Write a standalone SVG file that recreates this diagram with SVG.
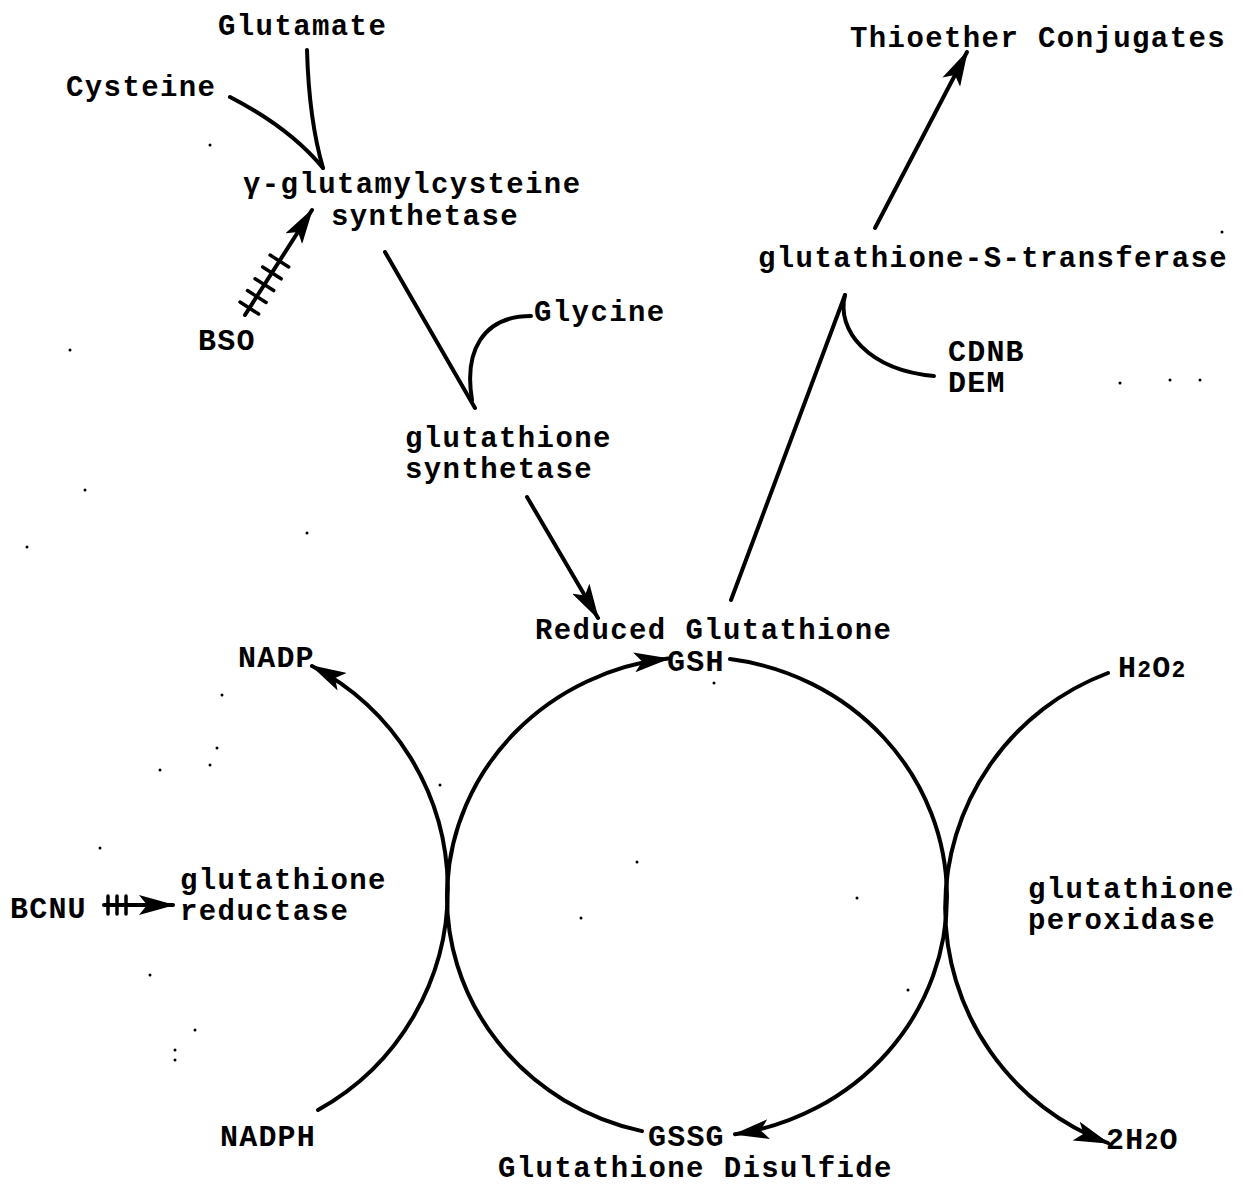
<svg xmlns="http://www.w3.org/2000/svg" width="1243" height="1186" viewBox="0 0 1243 1186">
<defs>
<marker id="ah" markerUnits="userSpaceOnUse" markerWidth="36" markerHeight="20" viewBox="0 0 36 20" refX="34" refY="10" orient="auto">
<path d="M0,0 L36,10 L0,20 L8,10 Z" fill="#000"/>
</marker>
</defs>
<style>
text{font-family:"Liberation Mono","Courier New",monospace;font-weight:bold;fill:#000}
.t{font-size:29px;letter-spacing:1.4px}
.c{font-size:30px;letter-spacing:1.2px}
.s{font-size:23px}
.ln{fill:none;stroke:#000;stroke-width:4;stroke-linecap:round}
.tk{stroke:#000;stroke-width:3.5;stroke-linecap:round}
</style>
<rect width="1243" height="1186" fill="#fff"/>

<g id="connectors">
<path class="ln" d="M307 50 Q309 120 323 168"/>
<path class="ln" d="M230 97 Q290 128 323 168"/>
<path class="ln" d="M245 315 L312 210" marker-end="url(#ah)"/>
<g class="tk">
<line x1="240" y1="302" x2="258.6" y2="314"/>
<line x1="247.5" y1="290.6" x2="266.1" y2="302.4"/>
<line x1="255.1" y1="278.8" x2="273.7" y2="290.6"/>
<line x1="262.6" y1="267" x2="281.2" y2="278.8"/>
<line x1="270.1" y1="255.1" x2="288.7" y2="266.9"/>
</g>
<path class="ln" d="M385 252 L475 408"/>
<path class="ln" d="M531 316 C482 316 464 352 472 400"/>
<path class="ln" d="M527 497 L598 618" marker-end="url(#ah)"/>
<path class="ln" d="M731 600 L845 295"/>
<path class="ln" d="M845 295 C836 330 868 370 934 376"/>
<path class="ln" d="M875 228 L967 52" marker-end="url(#ah)"/>
<path class="ln" d="M642 1131.1 A250 240 0 0 1 668 658.6" marker-end="url(#ah)"/>
<path class="ln" d="M730 659.1 A250 240 0 0 1 735 1134.2" marker-end="url(#ah)"/>
<path class="ln" d="M318 1110 A252 252 0 0 0 312 666" marker-end="url(#ah)"/>
<path class="ln" d="M1108 673 A251 251 0 0 0 1108 1143" marker-end="url(#ah)"/>
<path class="ln" d="M104 905 L173 905" marker-end="url(#ah)"/>
<g class="tk">
<line x1="108" y1="896" x2="108" y2="914"/>
<line x1="117" y1="896" x2="117" y2="914"/>
<line x1="126" y1="896" x2="126" y2="914"/>
</g>
</g>

<g id="glutamate"><text class="t" x="218" y="35">Glutamate</text></g>
<g id="cysteine"><text class="t" x="66" y="96">Cysteine</text></g>
<g id="gcs"><text class="t" x="243" y="193">γ-glutamylcysteine</text><text class="t" x="331" y="225">synthetase</text></g>
<g id="bso"><text class="c" x="198" y="350">BSO</text></g>
<g id="glycine"><text class="t" x="534" y="321">Glycine</text></g>
<g id="gs"><text class="t" x="405" y="447">glutathione</text><text class="t" x="405" y="478">synthetase</text></g>
<g id="gsh"><text class="t" x="535" y="639">Reduced Glutathione</text><text class="c" x="667" y="671">GSH</text></g>
<g id="thioether"><text class="t" x="850" y="47">Thioether Conjugates</text></g>
<g id="gst"><text class="t" x="758" y="267">glutathione-S-transferase</text></g>
<g id="cdnb"><text class="c" x="948" y="361">CDNB</text><text class="c" x="948" y="392">DEM</text></g>
<g id="nadp"><text class="c" x="238" y="667">NADP</text></g>
<g id="h2o2"><text class="c" x="1118" y="677">H<tspan class="s">2</tspan>O<tspan class="s">2</tspan></text></g>
<g id="bcnu"><text class="c" x="10" y="918">BCNU</text></g>
<g id="gr"><text class="t" x="180" y="889">glutathione</text><text class="t" x="180" y="920">reductase</text></g>
<g id="gpx"><text class="t" x="1028" y="898">glutathione</text><text class="t" x="1028" y="929">peroxidase</text></g>
<g id="nadph"><text class="c" x="220" y="1146">NADPH</text></g>
<g id="gssg"><text class="c" x="648" y="1146">GSSG</text><text class="t" x="498" y="1177">Glutathione Disulfide</text></g>
<g id="h2o"><text class="c" x="1106" y="1149">2H<tspan class="s">2</tspan>O</text></g>

<g id="specks" fill="#000">
<circle cx="210" cy="145" r="1.5"/><circle cx="70" cy="350" r="1.5"/><circle cx="85" cy="490" r="1.5"/>
<circle cx="27" cy="547" r="1.5"/><circle cx="307" cy="533" r="1.5"/><circle cx="222" cy="695" r="1.5"/>
<circle cx="160" cy="770" r="1.5"/><circle cx="210" cy="765" r="1.5"/><circle cx="217" cy="748" r="1.5"/>
<circle cx="440" cy="785" r="1.5"/><circle cx="100" cy="848" r="1.5"/><circle cx="150" cy="975" r="1.5"/>
<circle cx="195" cy="1030" r="1.5"/><circle cx="175" cy="1050" r="1.5"/><circle cx="175" cy="1060" r="1.5"/>
<circle cx="637" cy="862" r="1.5"/><circle cx="581" cy="918" r="1.5"/><circle cx="857" cy="898" r="1.5"/>
<circle cx="908" cy="990" r="1.5"/><circle cx="714" cy="683" r="1.5"/><circle cx="1120" cy="383" r="1.5"/>
<circle cx="1170" cy="380" r="1.5"/><circle cx="1200" cy="380" r="1.5"/><circle cx="1222" cy="232" r="1.5"/>
</g>
</svg>
